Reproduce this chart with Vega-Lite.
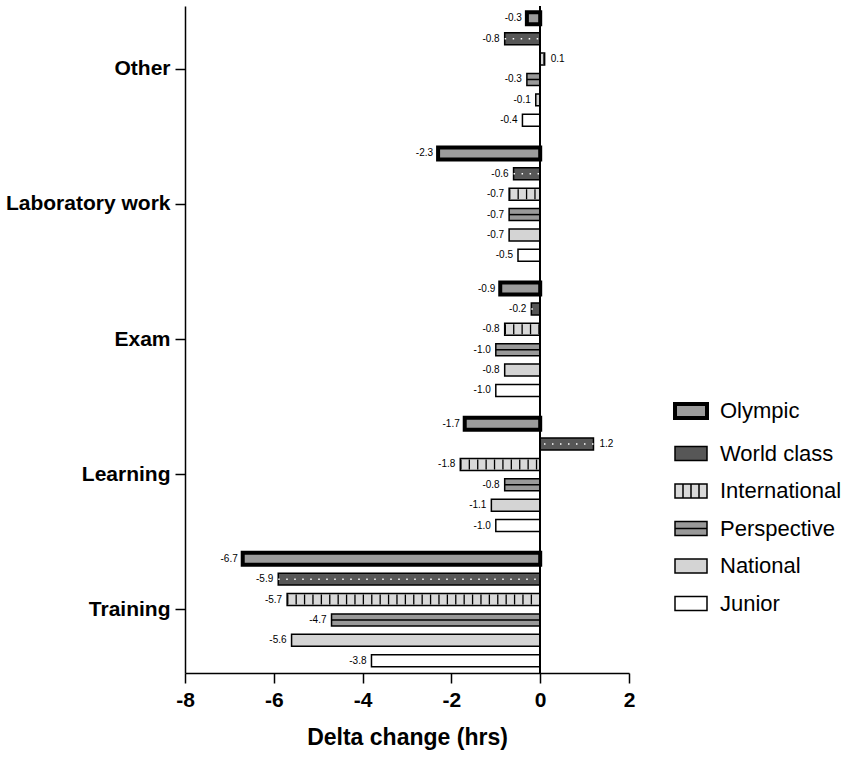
{
  "$schema": "https://vega.github.io/schema/vega-lite/v6.json",
  "width": 444,
  "height": 667,
  "padding": {"left": 5, "top": 5, "right": 5, "bottom": 5},
  "data": {
    "values": [
      {"activity": "Other", "series": "Olympic", "value": -0.3},
      {"activity": "Other", "series": "World class", "value": -0.8},
      {"activity": "Other", "series": "International", "value": 0.1},
      {"activity": "Other", "series": "Perspective", "value": -0.3},
      {"activity": "Other", "series": "National", "value": -0.1},
      {"activity": "Other", "series": "Junior", "value": -0.4},
      {"activity": "Laboratory work", "series": "Olympic", "value": -2.3},
      {"activity": "Laboratory work", "series": "World class", "value": -0.6},
      {"activity": "Laboratory work", "series": "International", "value": -0.7},
      {"activity": "Laboratory work", "series": "Perspective", "value": -0.7},
      {"activity": "Laboratory work", "series": "National", "value": -0.7},
      {"activity": "Laboratory work", "series": "Junior", "value": -0.5},
      {"activity": "Exam", "series": "Olympic", "value": -0.9},
      {"activity": "Exam", "series": "World class", "value": -0.2},
      {"activity": "Exam", "series": "International", "value": -0.8},
      {"activity": "Exam", "series": "Perspective", "value": -1.0},
      {"activity": "Exam", "series": "National", "value": -0.8},
      {"activity": "Exam", "series": "Junior", "value": -1.0},
      {"activity": "Learning", "series": "Olympic", "value": -1.7},
      {"activity": "Learning", "series": "World class", "value": 1.2},
      {"activity": "Learning", "series": "International", "value": -1.8},
      {"activity": "Learning", "series": "Perspective", "value": -0.8},
      {"activity": "Learning", "series": "National", "value": -1.1},
      {"activity": "Learning", "series": "Junior", "value": -1.0},
      {"activity": "Training", "series": "Olympic", "value": -6.7},
      {"activity": "Training", "series": "World class", "value": -5.9},
      {"activity": "Training", "series": "International", "value": -5.7},
      {"activity": "Training", "series": "Perspective", "value": -4.7},
      {"activity": "Training", "series": "National", "value": -5.6},
      {"activity": "Training", "series": "Junior", "value": -3.8}
    ]
  },
  "encoding": {
    "y": {
      "field": "activity",
      "type": "nominal",
      "title": null,
      "scale": {
        "domain": ["Other", "Laboratory work", "Exam", "Learning", "Training"],
        "paddingInner": 0.157,
        "paddingOuter": 0.047
      },
      "axis": {
        "labelFontSize": 21,
        "labelFontWeight": "bold",
        "labelColor": "black",
        "tickSize": 10,
        "labelPadding": 5,
        "domainColor": "black",
        "domainWidth": 1.5,
        "tickColor": "black",
        "tickWidth": 1.5
      }
    },
    "yOffset": {
      "field": "series",
      "type": "nominal",
      "scale": {
        "domain": ["Olympic", "World class", "International", "Perspective", "National", "Junior"],
        "paddingInner": 0.412,
        "paddingOuter": 0
      }
    }
  },
  "layer": [
    {
      "mark": {"type": "bar", "stroke": "black"},
      "encoding": {
        "x": {
          "field": "value",
          "type": "quantitative",
          "title": "Delta change (hrs)",
          "scale": {"domain": [-8, 2], "nice": false},
          "axis": {
            "values": [-8, -6, -4, -2, 0, 2],
            "grid": false,
            "labelFlush": false,
            "labelFontSize": 21,
            "labelFontWeight": "bold",
            "labelColor": "black",
            "labelPadding": 6,
            "tickSize": 10,
            "tickColor": "black",
            "tickWidth": 1.5,
            "domainColor": "black",
            "domainWidth": 1.5,
            "titleFontSize": 23,
            "titleFontWeight": "bold",
            "titleColor": "black",
            "titlePadding": 16
          }
        },
        "fill": {
          "field": "series",
          "type": "nominal",
          "title": null,
          "scale": {
            "domain": ["Olympic", "World class", "International", "Perspective", "National", "Junior"],
            "range": ["#9c9c9c", "#575757", "#d9d9d9", "#999999", "#d4d4d4", "#ffffff"]
          },
          "legend": {
            "orient": "none",
            "legendX": 495,
            "legendY": 394,
            "labelFontSize": 22,
            "labelColor": "black",
            "labelOffset": 18,
            "symbolSize": 1024,
            "symbolStrokeColor": "black",
            "symbolStrokeWidth": 1.5,
            "rowPadding": 15.5,
            "encode": {
              "symbols": {
                "update": {
                  "shape": {"signal": "datum.value === 'International' ? 'M-1,-0.44H1V0.44H-1Z M-0.5,-0.44V0.44 M0,-0.44V0.44 M0.5,-0.44V0.44' : datum.value === 'Perspective' ? 'M-1,-0.44H1V0.44H-1Z M-1,0H1' : 'M-1,-0.44H1V0.44H-1Z'"},
                  "strokeWidth": {"signal": "datum.value === 'Olympic' ? 4 : 1.5"},
                  "stroke": {"value": "black"}
                }
              }
            }
          }
        },
        "strokeWidth": {
          "condition": {"test": "datum.series === 'Olympic'", "value": 4},
          "value": 1.5
        }
      }
    },
    {
      "transform": [{"filter": "datum.series === 'International'"}],
      "mark": {"type": "rule", "stroke": "black", "strokeWidth": 10, "strokeDash": [1.3, 7.1]},
      "encoding": {
        "x": {"field": "value", "type": "quantitative"},
        "x2": {"datum": 0}
      }
    },
    {
      "transform": [{"filter": "datum.series === 'Perspective'"}],
      "mark": {"type": "rule", "stroke": "black", "strokeWidth": 1.5},
      "encoding": {
        "x": {"field": "value", "type": "quantitative"},
        "x2": {"datum": 0}
      }
    },
    {
      "transform": [{"filter": "datum.series === 'World class'"}],
      "mark": {"type": "rule", "stroke": "white", "strokeWidth": 1.5, "strokeDash": [1.5, 6.5]},
      "encoding": {
        "x": {"field": "value", "type": "quantitative"},
        "x2": {"datum": 0}
      }
    },
    {
      "mark": {"type": "rule", "stroke": "black", "strokeWidth": 1.5},
      "encoding": {
        "x": {"datum": 0},
        "y": null,
        "yOffset": null
      }
    },
    {
      "transform": [{"filter": "datum.value < 0"}],
      "mark": {"type": "text", "align": "right", "dx": -5, "fontSize": 10, "fill": "black"},
      "encoding": {
        "x": {"field": "value", "type": "quantitative"},
        "text": {"field": "value", "type": "quantitative", "format": ".1f"}
      }
    },
    {
      "transform": [{"filter": "datum.value >= 0"}],
      "mark": {"type": "text", "align": "left", "dx": 6, "fontSize": 10, "fill": "black"},
      "encoding": {
        "x": {"field": "value", "type": "quantitative"},
        "text": {"field": "value", "type": "quantitative", "format": ".1f"}
      }
    }
  ],
  "config": {
    "font": "Liberation Sans",
    "view": {"stroke": null},
    "locale": {
      "number": {
        "decimal": ".",
        "thousands": ",",
        "grouping": [3],
        "currency": ["$", ""],
        "minus": "-"
      }
    }
  }
}
